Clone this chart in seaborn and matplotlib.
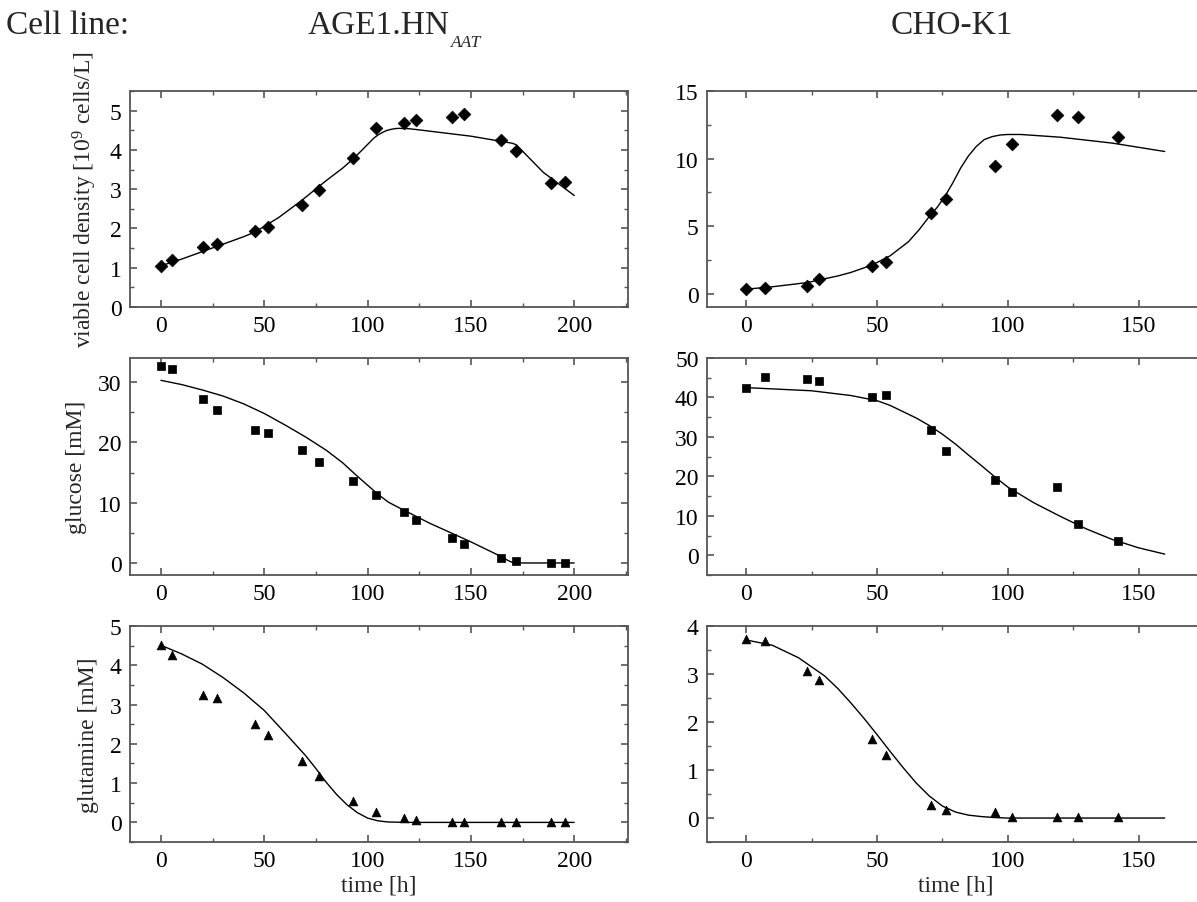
import matplotlib
matplotlib.use('Agg')
import pandas as pd
import matplotlib.pyplot as plt
import seaborn as sns
from matplotlib.ticker import MultipleLocator

# measured samples, AGE1.HN.AAT
t_age = [0, 5.5, 20.3, 27.3, 45.5, 51.7, 68.3, 76.5, 93, 104, 117.4, 123.6,
         140.8, 146.7, 164.6, 171.6, 189, 195.3]
vcd_age = [1.05, 1.19, 1.54, 1.61, 1.94, 2.04, 2.61, 2.97, 3.80, 4.57, 4.68,
           4.76, 4.83, 4.91, 4.24, 3.96, 3.17, 3.19]
glc_age = [32.7, 32.1, 27.2, 25.4, 22.1, 21.6, 18.8, 16.8, 13.6, 11.3, 8.4,
           7.1, 4.1, 3.1, 0.8, 0.3, 0.0, 0.0]
gln_age = [4.51, 4.26, 3.25, 3.18, 2.50, 2.23, 1.56, 1.17, 0.55, 0.26, 0.12,
           0.07, 0.02, 0.02, 0.02, 0.02, 0.02, 0.02]

# measured samples, CHO-K1
t_cho = [0, 7.3, 23.4, 28, 48.2, 53.3, 70.5, 76.5, 95.3, 101.8, 119, 126.9, 142.1]
vcd_cho = [0.32, 0.42, 0.59, 1.09, 2.05, 2.37, 5.93, 6.99, 9.41, 11.04, 13.26,
           13.04, 11.63]
glc_cho = [42.5, 45.1, 44.6, 44.3, 40.2, 40.6, 31.7, 26.5, 19.0, 16.0, 17.4,
           8.0, 3.6]
gln_cho = [3.74, 3.69, 3.06, 2.88, 1.65, 1.31, 0.27, 0.17, 0.13, 0.02, 0.02,
           0.02, 0.02]

# model curves
tm_vcd_age = [0, 10, 20, 30, 40, 45.5, 57, 68, 80, 88, 93, 97, 100, 103, 105,
              107, 109, 111, 113, 115, 120, 125, 150, 170, 172, 185, 200]
m_vcd_age = [1.05, 1.22, 1.41, 1.60, 1.79, 1.91, 2.28, 2.71, 3.22, 3.54, 3.77,
             3.98, 4.14, 4.30, 4.38, 4.44, 4.49, 4.52, 4.54, 4.55, 4.54, 4.51,
             4.35, 4.17, 4.13, 3.43, 2.84]
tm_glc_age = [0, 10, 20, 30, 40, 50, 60, 70, 80, 88, 95, 100, 105, 110, 115,
              130, 150, 165, 168, 170, 175, 200]
m_glc_age = [30.3, 29.6, 28.7, 27.7, 26.4, 24.8, 22.9, 20.9, 18.7, 16.6, 14.4,
             12.9, 11.4, 10.1, 9.2, 6.6, 3.5, 1.0, 0.4, 0.1, 0.0, 0.0]
tm_gln_age = [0, 10, 20, 30, 40, 50, 60, 70, 75, 80, 85, 90, 95, 100, 105, 110,
              120, 200]
m_gln_age = [4.51, 4.29, 4.03, 3.69, 3.30, 2.85, 2.28, 1.70, 1.37, 1.02, 0.71,
             0.45, 0.25, 0.11, 0.04, 0.01, 0.0, 0.0]

tm_vcd_cho = [0, 10, 23.4, 28, 35, 40, 48, 55, 62, 66, 70, 73, 76, 79, 82, 85,
              88, 91, 94, 97, 100, 105, 120, 140, 160]
m_vcd_cho = [0.32, 0.50, 0.81, 1.01, 1.30, 1.56, 2.10, 2.79, 3.83, 4.70, 5.70,
             6.38, 7.20, 8.20, 9.30, 10.2, 10.9, 11.4, 11.62, 11.74, 11.78,
             11.78, 11.58, 11.14, 10.52]
tm_glc_cho = [0, 25, 40, 50, 55, 60, 65, 70, 75, 80, 85, 90, 95, 100, 110, 120,
              130, 140, 150, 160]
m_glc_cho = [42.5, 41.7, 40.5, 39.2, 38.0, 36.4, 34.8, 32.9, 30.7, 28.2, 25.4,
             22.7, 19.9, 17.3, 13.3, 9.9, 6.7, 4.0, 1.9, 0.3]
tm_gln_cho = [0, 10, 20, 30, 35, 40, 45, 50, 55, 60, 65, 70, 75, 80, 85, 90,
              95, 100, 160]
m_gln_cho = [3.71, 3.60, 3.34, 2.96, 2.70, 2.40, 2.08, 1.74, 1.39, 1.05, 0.73,
             0.46, 0.25, 0.125, 0.06, 0.03, 0.01, 0.0, 0.0]

sns.set_theme(style='ticks')
plt.rcParams['font.family'] = ['Liberation Serif', 'DejaVu Serif']
plt.rcParams['mathtext.fontset'] = 'custom'
plt.rcParams['mathtext.rm'] = 'Liberation Serif'
plt.rcParams['mathtext.it'] = 'Liberation Serif:italic'

fig = plt.figure(figsize=(11.97, 9.03), dpi=100)

col_x = [0.1086, 0.5906]
col_w = [0.416, 0.4152]
row_y = [0.6589, 0.3621, 0.0664]
row_h = [0.2392, 0.2403, 0.2392]

panels = [
    # row, col, t, y, tm, m, marker, size, ylim, major, minor
    (0, 0, t_age, vcd_age, tm_vcd_age, m_vcd_age, 'D', 42, (0, 5.5), 1, 0.5),
    (0, 1, t_cho, vcd_cho, tm_vcd_cho, m_vcd_cho, 'D', 42, (-1, 15), 5, 2.5),
    (1, 0, t_age, glc_age, tm_glc_age, m_glc_age, 's', 30, (-2, 34), 10, 5),
    (1, 1, t_cho, glc_cho, tm_glc_cho, m_glc_cho, 's', 30, (-5, 50), 10, 5),
    (2, 0, t_age, gln_age, tm_gln_age, m_gln_age, '^', 40, (-0.5, 5), 1, 0.5),
    (2, 1, t_cho, gln_cho, tm_gln_cho, m_gln_cho, '^', 40, (-0.5, 4), 1, 0.5),
]
ylabels = ['viable cell density [10$^9$ cells/L]', 'glucose [mM]',
           'glutamine [mM]']
xlims = [(-15, 226), (-15, 175)]

frame = '#555555'
for r, c, t, y, tm, m, mk, sz, ylim, maj, mnr in panels:
    ax = fig.add_axes([col_x[c], row_y[r], col_w[c], row_h[r]])
    meas = pd.DataFrame({'t': t, 'y': y})
    model = pd.DataFrame({'t': tm, 'y': m})
    sns.lineplot(data=model, x='t', y='y', ax=ax, color='black', lw=1,
                 sort=False, estimator=None)
    sns.scatterplot(data=meas, x='t', y='y', ax=ax, marker=mk, s=sz,
                    color='black', edgecolor='black', linewidth=0.5, zorder=3)
    ax.set_xlim(*xlims[c])
    ax.set_ylim(*ylim)
    ax.xaxis.set_major_locator(MultipleLocator(50))
    ax.xaxis.set_minor_locator(MultipleLocator(25))
    ax.yaxis.set_major_locator(MultipleLocator(maj))
    ax.yaxis.set_minor_locator(MultipleLocator(mnr))
    ax.tick_params(which='both', direction='in', top=True, right=True,
                   color=frame, labelsize=17, labelcolor='black')
    ax.tick_params(which='major', length=5, width=1.2, pad=6)
    ax.tick_params(which='minor', length=3, width=1.0)
    for s in ax.spines.values():
        s.set_color(frame)
        s.set_linewidth(1.3)
    ax.set_xlabel('time [h]' if r == 2 else '', fontsize=17, labelpad=2)
    ax.set_ylabel(ylabels[r] if c == 0 else '', fontsize=17, labelpad=8)

# column headers
fig.text(0.005, 0.962, 'Cell line:', fontsize=24, va='baseline', ha='left')
head = fig.text(0.257, 0.962, 'AGE1.HN', fontsize=24, va='baseline', ha='left')
# small italic subscript placed just after the header text
fig.add_artist(plt.Annotation('AAT', xy=(1, 0), xycoords=head,
                              xytext=(1, -4), textcoords='offset points',
                              fontsize=12.5, fontstyle='italic',
                              va='baseline', ha='left'))
fig.text(0.795, 0.962, 'CHO-K1', fontsize=24, va='baseline', ha='center')

fig.savefig('out.png', dpi=100)
